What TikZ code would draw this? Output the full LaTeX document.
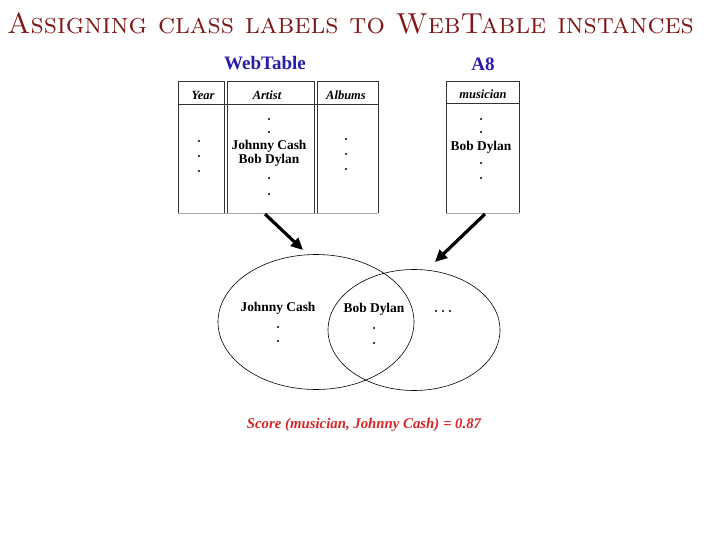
\documentclass[tikz,border=0pt]{standalone}
\usepackage{fontspec}
\newfontfamily\tnr{Liberation Serif}
\usetikzlibrary{arrows.meta,shapes.geometric}
\definecolor{titlered}{RGB}{128,22,22}
\definecolor{tblue}{RGB}{40,30,170}
\definecolor{sred}{RGB}{215,35,35}
\begin{document}
\begin{tikzpicture}[x=1pt,y=-1pt,font=\tnr\bfseries\fontsize{13.4}{15}\selectfont,hd/.style={font=\tnr\bfseries\itshape\fontsize{12.5}{14}\selectfont},ttl/.style={font=\tnr\bfseries\fontsize{19}{22}\selectfont,text=tblue},dt/.style={circle,fill,inner sep=0pt,minimum size=2.2pt},col/.style={draw=black!80,line width=0.8pt},bot/.style={draw=black!35,line width=0.8pt},set/.style={ellipse,draw,line width=0.6pt,inner sep=0pt},arr/.style={line width=3.2pt,-{Triangle[length=12pt,width=11pt]}}]
\useasboundingbox (0,0) rectangle (720,540);
\node[anchor=base west,inner sep=0pt,font=\fontsize{28.9}{31}\selectfont\scshape,text=titlered] (title) at (7,34) {Assigning class labels to WebTable instances};
% tables
\node[ttl] (wt) at (265,63) {WebTable}; \node[ttl] (a8) at (483,64) {A8};
\draw[bot] (178,213) -- (378,213); \draw[bot] (446,213) -- (519,213);
\draw[col] (178,213) |- (224,81) -- (224,213); \draw[col] (227,213) |- (314,81) -- (314,213); \draw[col] (317,213) |- (378,81) -- (378,213);
\draw[col] (178,104) -- (378,104);
\draw[col] (446,213) |- (519,81) -- (519,213); \draw[col] (446,103) -- (519,103);
\node[hd] (hyear) at (203,95) {Year}; \node[hd] (hart) at (267,95) {Artist}; \node[hd] (halb) at (346,95) {Albums}; \node[hd] (hmus) at (483,94) {musician};
\node[dt] (y1) at (199,141) {}; \node[dt] (y2) at (199,156) {}; \node[dt] (y3) at (199,171) {};
\node[dt] (a1) at (269,119) {}; \node[dt] (a2) at (269,132) {}; \node (jc) at (269,146) {Johnny Cash}; \node (bd) at (269,160) {Bob Dylan}; \node[dt] (a3) at (269,178) {}; \node[dt] (a4) at (269,194) {};
\node[dt] (b1) at (346,139) {}; \node[dt] (b2) at (346,154) {}; \node[dt] (b3) at (346,169) {};
\node[dt] (m1) at (481,119) {}; \node[dt] (m2) at (481,132) {}; \node (bdm) at (481,147) {Bob Dylan}; \node[dt] (m3) at (481,163) {}; \node[dt] (m4) at (481,178) {};
% sets
\node[set,minimum width=196pt,minimum height=135pt] (S1) at (316,322) {}; \node[set,minimum width=172pt,minimum height=121pt] (S2) at (414,330) {};
\node (jc2) at (278,308) {Johnny Cash}; \node[dt] (c1) at (278,327) {}; \node[dt] (c2) at (278,341) {};
\node (bd2) at (374,309) {Bob Dylan}; \node[dt] (e1) at (374,328) {}; \node[dt] (e2) at (374,343) {};
\node[dt] (d1) at (436,311) {}; \node[dt] (d2) at (443,311) {}; \node[dt] (d3) at (450,311) {};
\coordinate (p1) at (265,214); \coordinate (q1) at (303,250); \coordinate (p2) at (485,214); \coordinate (q2) at (435,262);
\draw[arr] (p1) -- (q1); \draw[arr] (p2) -- (q2);
\node[font=\tnr\bfseries\itshape\fontsize{14.8}{17}\selectfont,text=sred] (score) at (364,425) {Score (musician, Johnny Cash) = 0.87};
\end{tikzpicture}
\end{document}
